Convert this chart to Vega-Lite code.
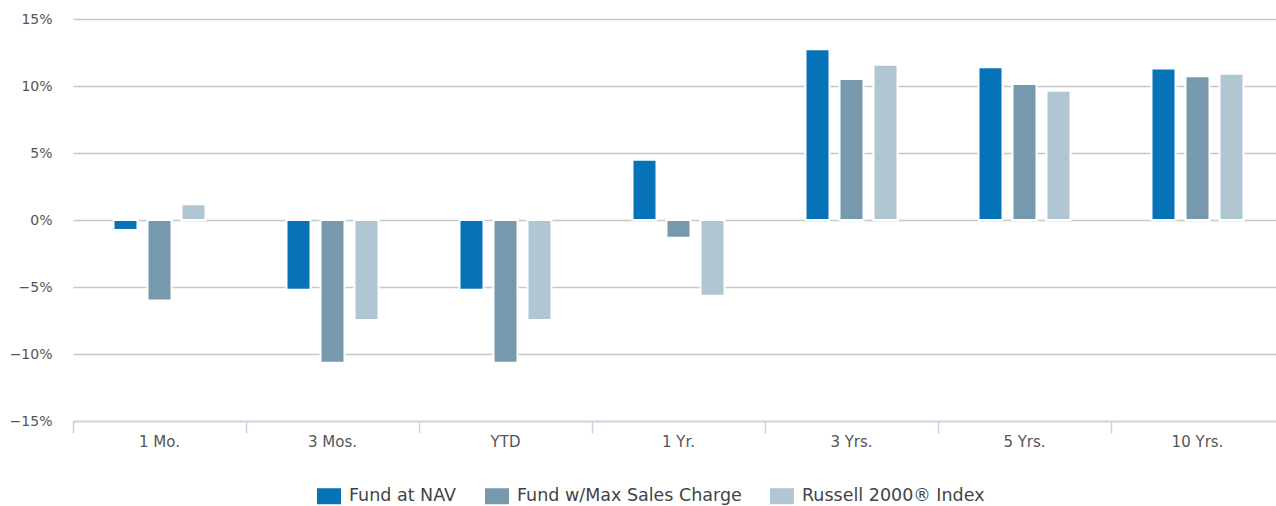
{
  "$schema": "https://vega.github.io/schema/vega-lite/v6.json",
  "autosize": {"type": "none"},
  "width": 1203,
  "height": 402,
  "padding": {"left": 73, "top": 19, "right": 0, "bottom": 85},
  "background": "white",
  "config": {
    "view": {"stroke": null},
    "font": "DejaVu Sans"
  },
  "data": {
    "values": [
      {"period": "1 Mo.", "series": "Fund at NAV", "value": -0.75},
      {"period": "1 Mo.", "series": "Fund w/Max Sales Charge", "value": -6.0},
      {"period": "1 Mo.", "series": "Russell 2000® Index", "value": 1.17},
      {"period": "3 Mos.", "series": "Fund at NAV", "value": -5.2},
      {"period": "3 Mos.", "series": "Fund w/Max Sales Charge", "value": -10.65},
      {"period": "3 Mos.", "series": "Russell 2000® Index", "value": -7.46},
      {"period": "YTD", "series": "Fund at NAV", "value": -5.2},
      {"period": "YTD", "series": "Fund w/Max Sales Charge", "value": -10.65},
      {"period": "YTD", "series": "Russell 2000® Index", "value": -7.46},
      {"period": "1 Yr.", "series": "Fund at NAV", "value": 4.5},
      {"period": "1 Yr.", "series": "Fund w/Max Sales Charge", "value": -1.32},
      {"period": "1 Yr.", "series": "Russell 2000® Index", "value": -5.65},
      {"period": "3 Yrs.", "series": "Fund at NAV", "value": 12.74},
      {"period": "3 Yrs.", "series": "Fund w/Max Sales Charge", "value": 10.52},
      {"period": "3 Yrs.", "series": "Russell 2000® Index", "value": 11.59},
      {"period": "5 Yrs.", "series": "Fund at NAV", "value": 11.4},
      {"period": "5 Yrs.", "series": "Fund w/Max Sales Charge", "value": 10.15},
      {"period": "5 Yrs.", "series": "Russell 2000® Index", "value": 9.65},
      {"period": "10 Yrs.", "series": "Fund at NAV", "value": 11.3},
      {"period": "10 Yrs.", "series": "Fund w/Max Sales Charge", "value": 10.72},
      {"period": "10 Yrs.", "series": "Russell 2000® Index", "value": 10.92}
    ]
  },
  "mark": {"type": "bar", "stroke": "white", "strokeWidth": 2},
  "encoding": {
    "x": {
      "field": "period",
      "type": "nominal",
      "sort": ["1 Mo.", "3 Mos.", "YTD", "1 Yr.", "3 Yrs.", "5 Yrs.", "10 Yrs."],
      "scale": {"range": [0, 1211], "paddingInner": 0, "paddingOuter": 0},
      "axis": {
        "title": null,
        "labelAngle": 0,
        "bandPosition": 0,
        "domainColor": "#c6d4e1",
        "domainWidth": 1.5,
        "tickColor": "#c6d4e1",
        "tickWidth": 1.5,
        "tickSize": 12,
        "labelPadding": 1,
        "labelFont": "DejaVu Sans",
        "labelFontSize": 15,
        "labelColor": "#555555",
        "grid": false
      }
    },
    "xOffset": {
      "field": "series",
      "type": "nominal",
      "sort": ["Fund at NAV", "Fund w/Max Sales Charge", "Russell 2000® Index"],
      "scale": {"range": [35.5, 137.5], "paddingInner": 0.294, "paddingOuter": 0.147}
    },
    "y": {
      "field": "value",
      "type": "quantitative",
      "scale": {"domain": [-15, 15], "nice": false, "zero": false},
      "axis": {
        "title": null,
        "values": [-15, -10, -5, 0, 5, 10, 15],
        "format": "d",
        "labelExpr": "datum.label + '%'",
        "domain": false,
        "ticks": false,
        "labelPadding": 21,
        "labelFont": "DejaVu Sans",
        "labelFontSize": 14,
        "labelColor": "#555555",
        "gridColor": "#c8c8c8",
        "gridWidth": 1.5
      }
    },
    "color": {
      "field": "series",
      "type": "nominal",
      "sort": ["Fund at NAV", "Fund w/Max Sales Charge", "Russell 2000® Index"],
      "scale": {
        "domain": ["Fund at NAV", "Fund w/Max Sales Charge", "Russell 2000® Index"],
        "range": ["#0672b8", "#7699ae", "#b0c6d2"]
      },
      "legend": {
        "title": null,
        "orient": "none",
        "direction": "horizontal",
        "legendX": 244,
        "legendY": 465,
        "symbolType": "M-1,-0.667H1V0.667H-1Z",
        "symbolSize": 576,
        "symbolStrokeWidth": 0,
        "labelFont": "DejaVu Sans",
        "labelFontSize": 17.5,
        "labelColor": "#444444",
        "labelOffset": 8,
        "columnPadding": 28,
        "labelLimit": 400
      }
    }
  }
}
